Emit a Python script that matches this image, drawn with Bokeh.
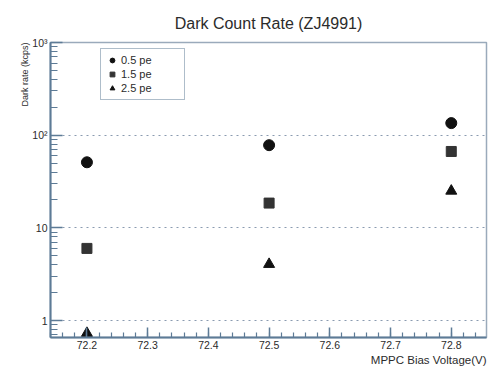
from bokeh.plotting import figure
from bokeh.models import Range1d, Title, Legend, LegendItem, LogTicker, SingleIntervalTicker
from bokeh.embed import file_html
from bokeh.resources import INLINE

# ---- data ----
voltage = [72.2, 72.5, 72.8]
rate_05pe = [51, 78, 135]
rate_15pe = [6.0, 18.5, 66.7]
rate_25pe = [0.73, 4.05, 25]
series_labels = ["0.5 pe", "1.5 pe", "2.5 pe"]
y_tick_labels = {1: "1", 10: "10", 100: "10²", 1000: "10³"}

FONT = "Liberation Sans"
AXIS_COL = "#5d7b96"
TEXT_COL = "#2b2b2b"

p = figure(width=488, height=367, y_axis_type="log",
           x_range=Range1d(72.14, 72.858), y_range=Range1d(0.656, 1000),
           output_backend="svg", toolbar_location=None,
           min_border_left=50, min_border_right=2, min_border_top=42, min_border_bottom=30)

p.title.text = "Dark Count Rate (ZJ4991)"
p.title.align = "center"
p.title.text_font = FONT
p.title.text_font_size = "16px"
p.title.text_font_style = "normal"
p.title.text_color = TEXT_COL
p.title.standoff = 22

p.add_layout(Title(text="MPPC Bias Voltage(V)", align="right", text_font=FONT, standoff=0,
                   text_font_size="11.5px", text_font_style="normal", text_color=TEXT_COL), "below")
p.add_layout(Title(text="Dark rate (kcps)", align="right", text_font=FONT, standoff=0,
                   text_font_size="9px", text_font_style="normal", text_color=TEXT_COL), "left")

p.outline_line_color = "#9aaabb"
p.outline_line_width = 1.5
p.background_fill_color = "white"
p.border_fill_color = "white"

# axes
p.xaxis.ticker = SingleIntervalTicker(interval=0.1, num_minor_ticks=5)
p.yaxis.ticker = LogTicker(num_minor_ticks=10)
p.yaxis.major_label_overrides = y_tick_labels
for ax in (p.xaxis, p.yaxis):
    ax.axis_line_color = AXIS_COL
    ax.axis_line_width = 2
    ax.major_tick_line_color = AXIS_COL
    ax.minor_tick_line_color = AXIS_COL
    ax.major_tick_line_width = 1.5
    ax.minor_tick_line_width = 1.2
    ax.major_tick_out = 0
    ax.minor_tick_out = 0
    ax.major_label_text_font = FONT
    ax.major_label_text_font_size = "10.5px"
    ax.major_label_text_color = TEXT_COL
    ax.major_label_standoff = 3
p.xaxis.major_tick_in = 10
p.xaxis.minor_tick_in = 5
p.yaxis.major_tick_in = 12
p.yaxis.minor_tick_in = 7

p.xgrid.grid_line_color = None
p.ygrid.grid_line_color = "#8a9bb0"
p.ygrid.grid_line_dash = "dotted"
p.ygrid.grid_line_width = 1.2

r1 = p.scatter(voltage, rate_05pe, marker="circle", size=11, color="#111111")
r2 = p.scatter(voltage, rate_15pe, marker="square", size=10, color="#333333")
r3 = p.scatter(voltage, rate_25pe, marker="triangle", size=11, color="#111111")

legend = Legend(items=[LegendItem(label=series_labels[0], renderers=[r1]),
                       LegendItem(label=series_labels[1], renderers=[r2]),
                       LegendItem(label=series_labels[2], renderers=[r3])],
                location=(50, 237))
legend.border_line_color = AXIS_COL
legend.border_line_width = 1.5
legend.label_text_font = FONT
legend.label_text_font_size = "11px"
legend.label_text_color = TEXT_COL
legend.glyph_width = 12
legend.glyph_height = 12
legend.label_height = 12
legend.label_width = 58
legend.spacing = 2
legend.padding = 5
legend.margin = 0
legend.label_standoff = 3
legend.background_fill_alpha = 1
p.add_layout(legend)

open("out.html", "w").write(file_html(p, INLINE))
